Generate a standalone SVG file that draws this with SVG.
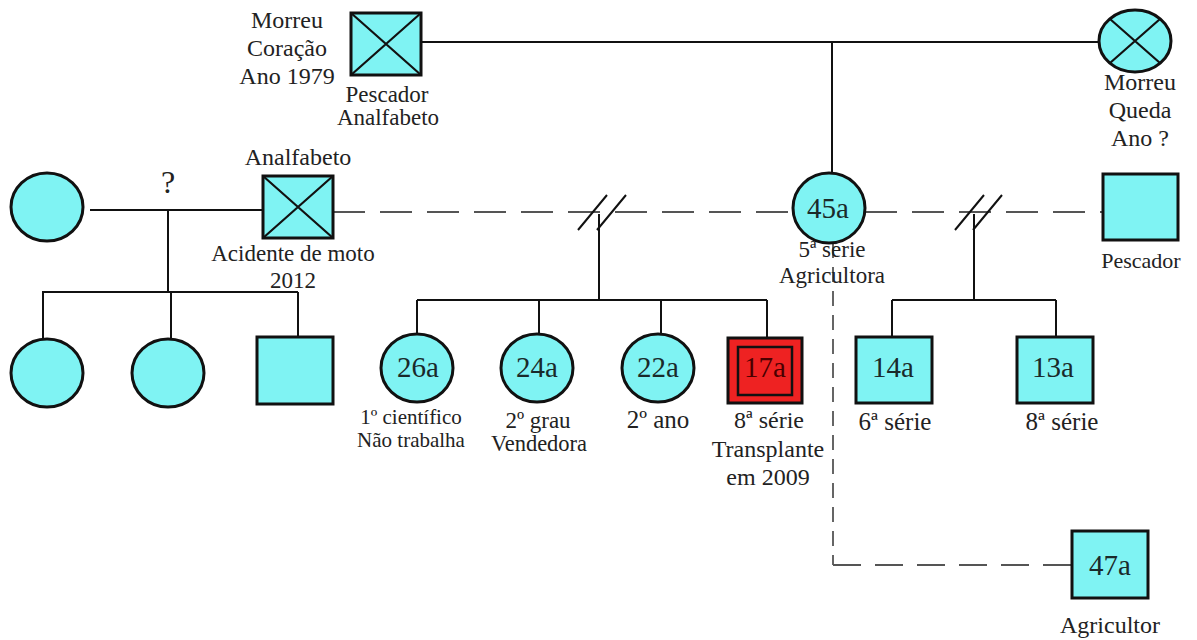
<svg xmlns="http://www.w3.org/2000/svg" width="1197" height="640" viewBox="0 0 1197 640">
<style>
.ln{stroke:#111;stroke-width:2;fill:none}
.dh{stroke:#555;stroke-width:2;fill:none;stroke-dasharray:32 15}
.dv{stroke:#555;stroke-width:1.8;fill:none;stroke-dasharray:15 9}
.dh2{stroke:#555;stroke-width:1.8;fill:none;stroke-dasharray:28 14}
.nd{fill:#7ff3f3;stroke:#111;stroke-width:3}
.x{stroke:#111;stroke-width:2.2}
.t{font-family:"Liberation Serif","Times New Roman",serif;fill:#222;text-anchor:middle}
.age{font-family:"Liberation Serif","Times New Roman",serif;fill:#1a2a2a;text-anchor:middle;font-size:29px}
</style>
<rect width="1197" height="640" fill="#fff"/>
<g id="connectors">
<path class="ln" d="M421 42H1099M832 42V173"/>
<path class="ln" d="M90 210H263M168 210V292M42 292H298M43 292V339M171 292V339M298 292V337"/>
<path class="dh" d="M333 212H793M865 212H1103"/>
<path class="ln" d="M578 230L607 195M597 230L626 195M599 214V300M417 300H767M417 300V334M539 300V334M661 300V334M767 300V338"/>
<path class="ln" d="M955 230L984 195M973 230L1002 195M974 214V300M892 300H1056M892 300V337M1056 300V337"/>
<path class="dv" d="M833 243V565"/>
<path class="dh2" d="M833 565H1072"/>
</g>
<g id="grandfather">
<rect class="nd" x="351" y="13" width="70" height="62"/>
<path class="x" d="M351 13L421 75M421 13L351 75"/>
<text class="t" font-size="24" x="287" y="28">Morreu</text>
<text class="t" font-size="24" x="287" y="56">Coração</text>
<text class="t" font-size="24" x="287" y="84">Ano 1979</text>
<text class="t" font-size="23" x="387" y="102">Pescador</text>
<text class="t" font-size="23" x="388" y="125">Analfabeto</text>
</g>
<g id="grandmother">
<ellipse class="nd" cx="1135" cy="41" rx="36" ry="31"/>
<path class="x" d="M1110 19L1160 63M1160 19L1110 63"/>
<text class="t" font-size="24" x="1140" y="90">Morreu</text>
<text class="t" font-size="24" x="1140" y="118">Queda</text>
<text class="t" font-size="24" x="1140" y="146">Ano ?</text>
</g>
<g id="left-wife">
<ellipse class="nd" cx="47" cy="207" rx="36" ry="34"/>
<text class="t" font-size="32" x="168" y="193">?</text>
</g>
<g id="father">
<rect class="nd" x="263" y="176" width="70" height="62"/>
<path class="x" d="M263 176L333 238M333 176L263 238"/>
<text class="t" font-size="24" x="298" y="165">Analfabeto</text>
<text class="t" font-size="23" x="293" y="261">Acidente de moto</text>
<text class="t" font-size="23" x="293" y="288">2012</text>
</g>
<g id="mother">
<ellipse class="nd" cx="829" cy="208" rx="36" ry="35"/>
<text class="age" font-size="30" x="828" y="218">45a</text>
<text class="t" font-size="23" x="832" y="257">5ª série</text>
<text class="t" font-size="23" x="832" y="283">Agricultora</text>
</g>
<g id="pescador">
<rect class="nd" x="1103" y="174" width="75" height="66"/>
<text class="t" font-size="22" x="1141" y="268">Pescador</text>
</g>
<g id="half-sib-1"><ellipse class="nd" cx="47" cy="373" rx="36" ry="34"/></g>
<g id="half-sib-2"><ellipse class="nd" cx="168" cy="373" rx="36" ry="34"/></g>
<g id="half-sib-3"><rect class="nd" x="257" y="337" width="76" height="67"/></g>
<g id="c26">
<ellipse class="nd" cx="417" cy="368" rx="36" ry="34"/>
<text class="age" x="418" y="377">26a</text>
<text class="t" font-size="21" x="411" y="424">1º científico</text>
<text class="t" font-size="21" x="411" y="447">Não trabalha</text>
</g>
<g id="c24">
<ellipse class="nd" cx="537" cy="368" rx="36" ry="34"/>
<text class="age" x="537" y="377">24a</text>
<text class="t" font-size="23" x="538" y="428">2º grau</text>
<text class="t" font-size="22.5" x="539" y="451">Vendedora</text>
</g>
<g id="c22">
<ellipse class="nd" cx="658" cy="368" rx="36" ry="34"/>
<text class="age" x="658" y="377">22a</text>
<text class="t" font-size="25" x="658" y="428">2º ano</text>
</g>
<g id="c17">
<rect x="728" y="338" width="74" height="65" fill="#ee2222" stroke="#111" stroke-width="3"/>
<rect x="738" y="347" width="54" height="48" fill="none" stroke="#111" stroke-width="2.5"/>
<text class="age" x="765" y="377" fill="#4a0000" style="fill:#4a0000">17a</text>
<text class="t" font-size="24" x="769" y="428">8ª série</text>
<text class="t" font-size="24" x="768" y="457">Transplante</text>
<text class="t" font-size="24" x="768" y="485">em 2009</text>
</g>
<g id="c14">
<rect class="nd" x="856" y="337" width="76" height="66"/>
<text class="age" x="893" y="377">14a</text>
<text class="t" font-size="25" x="895" y="430">6ª série</text>
</g>
<g id="c13">
<rect class="nd" x="1017" y="337" width="76" height="66"/>
<text class="age" x="1053" y="377">13a</text>
<text class="t" font-size="25" x="1062" y="430">8ª série</text>
</g>
<g id="p47">
<rect class="nd" x="1072" y="531" width="76" height="67"/>
<text class="age" font-size="31" x="1110" y="575">47a</text>
<text class="t" font-size="24" x="1110" y="633">Agricultor</text>
</g>
</svg>
